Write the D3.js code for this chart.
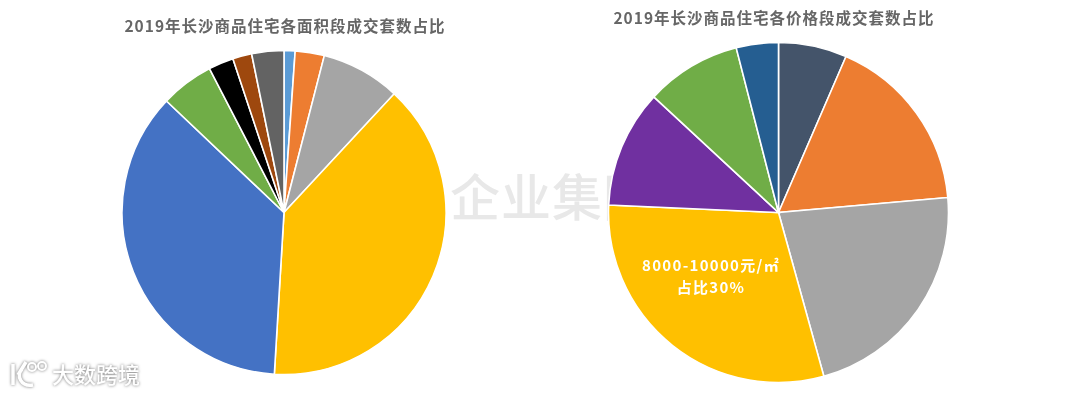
<!DOCTYPE html>
<html>
<head>
<meta charset="utf-8">
<script src="https://cdn.jsdelivr.net/npm/d3@7"></script>
<style>
  html, body { margin: 0; padding: 0; background: #fff; overflow: hidden; }
  text { font-family: "Noto Sans CJK SC", "Noto Sans", sans-serif; }
  svg { display: block; filter: blur(0.35px); }
</style>
</head>
<body>
<div id="chart"></div>
<script>
// shares (percent, clockwise from 12 o'clock)
const areaTitle = "2019年长沙商品住宅各面积段成交套数占比";
const areaShares = [1.1, 2.9, 7.9, 39, 36.1, 5.3, 2.5, 1.9, 3.2];
const areaColors = ["#5b9bd5", "#ed7d31", "#a5a5a5", "#ffc000", "#4472c4", "#70ad47", "#000000", "#9e480e", "#636363"];

const priceTitle = "2019年长沙商品住宅各价格段成交套数占比";
const priceShares = [6.5, 17.1, 22.1, 30, 11.2, 9.1, 4.0];
const priceColors = ["#44546a", "#ed7d31", "#a5a5a5", "#ffc000", "#7030a0", "#70ad47", "#255e91"];

const priceNote = ["8000-10000元/㎡", "占比30%"];
const centerMark = "企业集团";
const brandMark = "大数跨境";

const svg = d3.select("#chart").append("svg").attr("width", 1080).attr("height", 395);

// --- watermark sits behind the pies
svg.append("text")
  .attr("x", 450).attr("y", 216)
  .attr("font-size", 50).attr("font-weight", 500)
  .attr("letter-spacing", 1)
  .attr("fill", "#e8e8e8")
  .text(centerMark);

function drawPie(values, colors, title, cx, cy, radius, titleX, titleY) {
  const pie = d3.pie().sort(null).value(d => d);
  const arc = d3.arc().innerRadius(0).outerRadius(radius);
  const g = svg.append("g").attr("transform", `translate(${cx},${cy})`);
  g.selectAll("path")
    .data(pie(values))
    .enter()
    .append("path")
    .attr("d", arc)
    .attr("fill", (d, i) => colors[i])
    .attr("stroke", "#fff")
    .attr("stroke-width", 1.6);
  svg.append("text")
    .attr("x", titleX).attr("y", titleY)
    .attr("text-anchor", "middle")
    .attr("font-size", 15.5).attr("font-weight", 700)
    .attr("letter-spacing", 1)
    .attr("fill", "#666")
    .text(title);
}

drawPie(areaShares, areaColors, areaTitle, 284, 212.5, 162, 285, 32);
drawPie(priceShares, priceColors, priceTitle, 778.5, 212.5, 170, 774, 24);

// --- note on the yellow slice, one text wrapped on two lines
svg.append("text")
  .attr("text-anchor", "middle")
  .attr("font-size", 15).attr("font-weight", 700)
  .attr("letter-spacing", 1.3)
  .attr("fill", "#fff")
  .selectAll("tspan")
  .data(priceNote)
  .enter()
  .append("tspan")
  .attr("x", 711)
  .attr("y", (d, i) => 271 + i * 22)
  .text(d => d);

// --- brand mark, white with a soft shadow
const brand = svg.append("g").style("filter", "drop-shadow(0 0 1.5px rgba(0,0,0,0.55))");
brand.append("path")
  .attr("d", "M13 364V385M33 385C21 387 16 376 22 369M18 375L26 362")
  .attr("fill", "none").attr("stroke", "#fff").attr("stroke-width", 3.5);
brand.selectAll("circle")
  .data([[32, 367], [42, 366]])
  .enter()
  .append("circle")
  .attr("cx", d => d[0]).attr("cy", d => d[1]).attr("r", 4)
  .attr("fill", "none").attr("stroke", "#fff").attr("stroke-width", 2);
brand.append("text")
  .attr("x", 52).attr("y", 383)
  .attr("font-size", 22).attr("font-weight", 500)
  .attr("fill", "#fff")
  .text(brandMark);
</script>
</body>
</html>
